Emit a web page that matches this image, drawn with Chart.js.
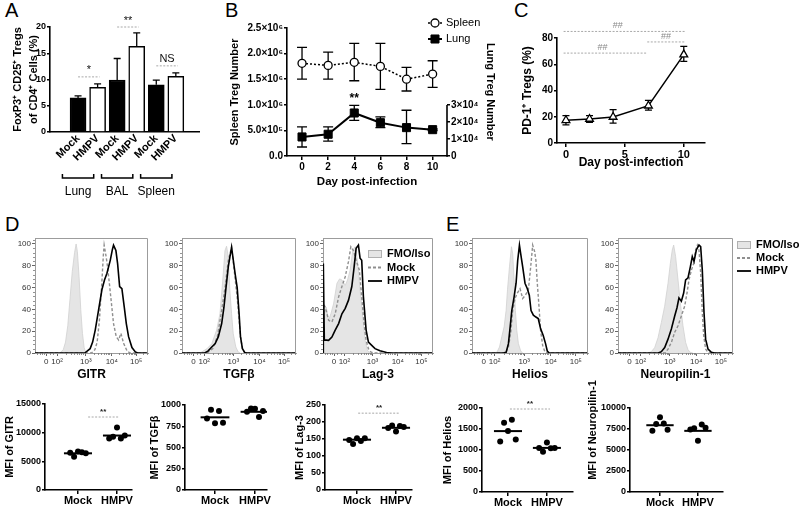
<!DOCTYPE html>
<html>
<head>
<meta charset="utf-8">
<script src="https://cdn.jsdelivr.net/npm/chart.js@4.4.1/dist/chart.umd.min.js"></script>
<style>
  body { margin: 0; background: #fff; width: 800px; height: 510px; position: relative; overflow: hidden;
         font-family: "Liberation Sans", Arial, sans-serif; }
  canvas { position: absolute; }
  .lab { position: absolute; font-size: 20px; line-height: 20px; color: #000; }
</style>
</head>
<body>
<div class="lab" style="left:5px;top:0px">A</div>
<div class="lab" style="left:225px;top:0px">B</div>
<div class="lab" style="left:514px;top:0px">C</div>
<div class="lab" style="left:5px;top:214px">D</div>
<div class="lab" style="left:446px;top:214px">E</div>

<canvas id="cA"></canvas>
<canvas id="cB"></canvas>
<canvas id="cC"></canvas>
<canvas id="hGitr"></canvas>
<canvas id="hTgf"></canvas>
<canvas id="hLag"></canvas>
<canvas id="hHel"></canvas>
<canvas id="hNrp"></canvas>
<canvas id="dGitr"></canvas>
<canvas id="dTgf"></canvas>
<canvas id="dLag"></canvas>
<canvas id="dHel"></canvas>
<canvas id="dNrp"></canvas>

<script>
// ---- A: Treg % by tissue ----
const tissues = ['Lung', 'BAL', 'Spleen'];
const groups = ['Mock', 'HMPV'];
const tregPct = [6.5, 8.5, 9.9, 16.3, 9.0, 10.6];
const tregPctErr = [0.4, 0.65, 4.1, 2.6, 0.9, 0.65];
const sigA = [
  {from: 0, to: 1.1, y: 10.5, label: '*'},
  {from: 2, to: 3.1, y: 20, label: '**'},
  {from: 4, to: 5.1, y: 12.6, label: 'NS'}
];

// ---- B: Treg numbers over time ----
const days = [0, 2, 4, 6, 8, 10];
const spleenTreg = [1.81e6, 1.77e6, 1.83e6, 1.75e6, 1.50e6, 1.60e6];
const spleenLo = [1.50e6, 1.50e6, 1.47e6, 1.30e6, 1.27e6, 1.34e6];
const spleenHi = [2.12e6, 2.03e6, 2.20e6, 2.20e6, 1.73e6, 1.86e6];
const lungTreg = [1.12e4, 1.28e4, 2.53e4, 1.96e4, 1.67e4, 1.55e4];
const lungLo = [0.53e4, 0.88e4, 2.10e4, 1.67e4, 0.73e4, 1.50e4];
const lungHi = [1.71e4, 1.71e4, 2.98e4, 2.30e4, 2.69e4, 1.60e4];
const spleenTicks = [0, 5e5, 1e6, 1.5e6, 2e6, 2.5e6];
const spleenTickLabels = ['0.0', '5.0×10⁵', '1.0×10⁶', '1.5×10⁶', '2.0×10⁶', '2.5×10⁶'];
const lungTicks = [0, 1e4, 2e4, 3e4];
const lungTickLabels = ['0', '1×10⁴', '2×10⁴', '3×10⁴'];

// ---- C: PD-1+ Tregs ----
const pdDays = [0, 2, 4, 7, 10];
const pd1Pct = [17.3, 18.3, 19.8, 28.4, 67.3];
const pd1Lo = [13.8, 15.8, 15.2, 25.0, 62.2];
const pd1Hi = [20.8, 20.8, 25.4, 32.5, 73.6];
const sigC = [
  {from: -0.2, to: 10.1, y: 85, label: '##', tx: 4.4},
  {from: -0.2, to: 6.9, y: 68.5, label: '##', tx: 3.1},
  {from: 6.9, to: 10.1, y: 77, label: '##', tx: 8.5}
];

// ---- D/E: histograms, [channel, % of max] ----
const histTickPos = [10, 19.5, 45, 68, 89.5];
const histTickLab = ['0', '10²', '10³', '10⁴', '10⁵'];
const histYTicks = [0, 20, 40, 60, 80, 100];

const gitrFmo = [[22,0],[25,3],[27,10],[29,25],[31,50],[33,75],[35,92],[36.4,100],[37.5,93],[39,70],[40.5,40],[42,18],[43.5,5],[45,0]];
const gitrMock = [[0,0],[50,0],[53,3],[55,10],[57,30],[59,62],[60.5,90],[61.2,99],[63,88],[64.2,79],[66,62],[68,42],[69.5,27],[71.9,15],[74,12],[76,18],[78.4,9],[81.4,2],[84,0],[100,0]];
const gitrHmpv = [[0,0],[44,0],[48.8,4],[51,10],[53.3,21],[56.2,39],[59.2,58],[61.5,67],[63.6,73],[66.6,85],[68.5,95],[69.5,99],[71.6,94],[73.1,82],[74.9,61],[76.9,59],[79,42],[80.8,27],[82.8,15],[85.8,5],[88.8,1],[91,0],[100,0]];

const tgfFmo = [[15,0],[17.4,1],[22,4],[26.1,8.5],[30.4,21],[33.3,36],[35.7,66],[37.7,94],[39.1,98],[40.6,88],[42,57],[43.5,36],[44.9,18],[47.2,5.5],[49.3,1],[51,0]];
const tgfMock = [[0,0],[22,0],[27,4],[31,15],[34.8,39],[38,62],[40.6,85],[43.5,97],[46.4,70],[48.4,51],[50.1,30],[51.3,15],[53,4],[55,0],[100,0]];
const tgfHmpv = [[0,0],[20,0],[23,2],[26.1,5.5],[29,8.5],[31.9,15],[34.8,27],[36.8,42],[38.6,60],[40.6,79],[42,88],[43.5,97],[44.9,86],[46.7,72],[48.4,60],[50.1,36],[51.3,15],[53,4],[55,0.5],[57,0],[100,0]];

const lagFmo = [[0,0],[0.6,36],[3,42],[5.1,30],[7.2,36],[9.6,45],[12.7,64],[15.1,68],[17.2,67],[20.2,62],[22.3,67],[24.7,76],[27.1,94.5],[29.2,97.5],[31.3,85],[33.7,58],[36.1,33],[38.3,11.6],[40.4,2.5],[42.8,0]];
const lagMock = [[0,0],[0.5,45],[2.1,42],[5.1,30],[8.1,28.5],[11.1,36],[14.2,51.5],[17.2,61],[20.2,70],[23.2,84],[25.3,97.5],[27.7,94],[30.1,85],[33.1,76],[35.2,51.5],[37.3,27],[39.2,11.6],[41.3,4],[43.4,1],[46,0],[100,0]];
const lagHmpv = [[0,0],[0.3,82],[1.2,12],[5.1,11.6],[8.1,14.7],[11.1,21],[14.2,27],[17.2,36],[20.2,41],[23.2,48.5],[26.2,61],[28.3,79],[30.1,96],[32.2,99],[33.7,87],[35.2,85],[36.7,52],[39.2,21],[41.3,10],[44.3,7],[47.3,4],[51.8,2],[57.8,0.5],[62,0],[100,0]];

const helFmo = [[19,0],[21.4,0.6],[23.7,5.5],[25.7,15],[27.7,24],[29.4,39],[30.6,58],[32.3,79],[34,97.5],[35.1,91],[36.3,67],[37.4,39],[38.6,21],[40,8.6],[42,1.8],[43.7,0]];
const helMock = [[0,0],[29,0],[31.4,5.5],[33.4,19],[35.1,39],[37.1,50],[39.1,55],[41.4,59],[43.7,50],[46,53],[48.6,58],[50.6,79],[52.3,99],[54,93],[55.1,85],[56.3,64],[58,39],[59.1,21],[60.9,7],[62.9,1],[65,0],[100,0]];
const helHmpv = [[0,0],[27,0],[29.4,0.6],[31.4,8.6],[32.9,24],[34.3,39],[36.3,51.5],[38,64],[39.4,85],[40.9,99],[42,91],[43.7,79],[45.7,64],[47.7,59],[49.4,53],[50.9,39],[52.9,34.7],[55.1,33],[57.1,31.6],[59.1,22.4],[61.4,16],[63.4,8.6],[64.9,1.8],[66.6,0],[100,0]];

const nrpFmo = [[26,0],[29,1.2],[31.9,5],[34.8,14],[37.7,28],[40.6,43],[43.5,64],[45.5,82],[47.2,94.5],[48.4,99],[50.1,88.5],[52.2,67],[54.2,46],[56.5,25],[58.8,9.7],[60.9,3],[62.9,0.6],[65,0]];
const nrpMock = [[0,0],[41,0],[43.5,3.6],[46.4,9.7],[49.3,19],[52.2,25],[55.1,34],[58,43],[60,55],[61.7,67],[63.8,76],[65.8,82],[67.5,94.5],[69,99],[70.4,94.5],[71.9,73],[73.3,37],[74.5,16],[76.2,3.6],[78.3,0.6],[80,0],[100,0]];
const nrpHmpv = [[0,0],[35,0],[37.7,1.2],[40.6,5],[43.5,12.7],[46.4,22],[49.3,34],[51.3,41.5],[53,50.6],[55.1,47.6],[57.1,55],[58.8,67],[60.9,69],[62.9,79],[64.6,88.5],[66.1,84],[68.1,94.5],[70.4,99],[71.9,97.6],[73.3,76],[74.8,37],[76.2,12.7],[78.3,3.6],[81.2,0.6],[84,0],[100,0]];

// ---- D/E: MFI dot plots, [Mock, HMPV] ----
const gitrMFI = [[6500, 5800, 6700, 6600, 6400], [9000, 9300, 10900, 9000, 9500]];
const gitrMean = [6400, 9500];
const tgfMFI = [[840, 945, 785, 930, 790], [920, 960, 955, 860, 930]];
const tgfMean = [855, 920];
const lagMFI = [[147, 135, 152, 144, 152], [182, 190, 172, 188, 185]];
const lagMean = [148, 183];
const helMFI = [[1200, 1650, 1450, 1720, 1250], [1050, 960, 1180, 1040, 1050]];
const helMean = [1450, 1050];
const nrpMFI = [[7300, 8100, 8900, 8150, 7400], [7450, 7600, 6100, 8050, 7650]];
const nrpMean = [7950, 7280];
const jitter = [-0.2, -0.1, 0, 0.1, 0.2];

// ------------------------------------------------------------
const FF = '"Liberation Sans", Arial, sans-serif';
Chart.defaults.font.family = FF;
Chart.defaults.color = '#000';
Chart.defaults.animation = false;
Chart.defaults.plugins.legend.display = false;
Chart.defaults.plugins.tooltip.enabled = false;

const toXY = arr => arr.map(p => ({x: p[0], y: p[1]}));
const plain = v => String(v);

function setup(id, cv, area) {
  const el = document.getElementById(id);
  el.width = cv.w; el.height = cv.h;
  el.style.left = cv.x + 'px'; el.style.top = cv.y + 'px';
  el.style.width = cv.w + 'px'; el.style.height = cv.h + 'px';
  return {
    el, cv,
    padding: {left: 0, top: area.t - cv.y, right: cv.x + cv.w - area.r, bottom: 0},
    leftW: area.l - cv.x,
    rightW: cv.x + cv.w - area.r,
    bottomH: cv.y + cv.h - area.b
  };
}

const blackGrid = {drawOnChartArea: false, tickLength: 4, color: '#000', lineWidth: 1.5};
const blackBorder = {color: '#000', width: 1.6};

const errorBars = {
  id: 'errorBars',
  beforeDatasetsDraw(chart) {
    const ctx = chart.ctx;
    chart.data.datasets.forEach((ds, i) => {
      if (!ds.errHi) return;
      const meta = chart.getDatasetMeta(i);
      const ys = chart.scales[meta.yAxisID];
      ctx.save();
      ctx.strokeStyle = '#000';
      ctx.lineWidth = 1.3;
      meta.data.forEach((pt, j) => {
        const top = ys.getPixelForValue(ds.errHi[j]);
        const bot = ds.errLo ? ys.getPixelForValue(ds.errLo[j]) : pt.y;
        ctx.beginPath();
        ctx.moveTo(pt.x, top); ctx.lineTo(pt.x, bot);
        ctx.moveTo(pt.x - ds.cap, top); ctx.lineTo(pt.x + ds.cap, top);
        if (ds.errLo) { ctx.moveTo(pt.x - ds.cap, bot); ctx.lineTo(pt.x + ds.cap, bot); }
        ctx.stroke();
      });
      ctx.restore();
    });
  }
};

function drawSig(ctx, xs, ys, s, color, font) {
  const x1 = xs.getPixelForValue(s.from), x2 = xs.getPixelForValue(s.to);
  const yy = ys.getPixelForValue(s.y);
  ctx.save();
  ctx.strokeStyle = '#a8a8a8'; ctx.lineWidth = 1; ctx.setLineDash([2, 1.5]);
  ctx.beginPath(); ctx.moveTo(x1, yy); ctx.lineTo(x2, yy); ctx.stroke();
  ctx.setLineDash([]);
  ctx.fillStyle = color; ctx.font = font; ctx.textAlign = 'center'; ctx.textBaseline = 'bottom';
  const tx = s.tx !== undefined ? xs.getPixelForValue(s.tx) : (x1 + x2) / 2;
  ctx.fillText(s.label, tx, yy - 1);
  ctx.restore();
}

// ---------------- A ----------------
const barLabels = tissues.flatMap(() => groups);
const fA = setup('cA', {x: 10, y: 0, w: 195, h: 200}, {l: 50, t: 27, r: 199, b: 132});
new Chart(fA.el, {
  type: 'bar',
  data: {datasets: [{
    data: tregPct.map((v, i) => ({x: i, y: v})),
    backgroundColor: tregPct.map((v, i) => i % 2 ? '#fff' : '#000'),
    borderColor: '#000', borderWidth: 1.5, barThickness: 16,
    errHi: tregPct.map((v, i) => v + tregPctErr[i]), cap: 3.5
  }]},
  options: {
    responsive: false, devicePixelRatio: 1,
    layout: {padding: fA.padding},
    scales: {
      x: {type: 'linear', min: -0.8, max: 5.55, afterFit: s => { s.height = fA.bottomH; },
          afterBuildTicks: s => { s.ticks = barLabels.map((l, i) => ({value: i})); },
          ticks: {callback: v => barLabels[v], minRotation: 45, maxRotation: 45, autoSkip: false,
                  font: {size: 11, weight: 'bold'}, padding: 0},
          grid: {drawOnChartArea: false, drawTicks: false}, border: blackBorder},
      y: {min: 0, max: 20, afterFit: s => { s.width = fA.leftW; },
          ticks: {stepSize: 5, callback: plain, font: {size: 9, weight: 'bold'}, padding: 1},
          grid: {...blackGrid, tickLength: 3}, border: blackBorder,
          title: {display: true, text: ['FoxP3⁺ CD25⁺ Tregs', 'of CD4⁺ Cells (%)'],
                  font: {size: 11, weight: 'bold', lineHeight: 1.45}, padding: {top: 0, bottom: 0}}}
    }
  },
  plugins: [errorBars, {
    id: 'annA',
    afterDraw(chart) {
      const {ctx, chartArea} = chart;
      const xs = chart.scales.x, ys = chart.scales.y;
      ctx.save();
      ctx.strokeStyle = '#000'; ctx.lineWidth = 1.5; ctx.fillStyle = '#000';
      ctx.font = '12px ' + FF; ctx.textAlign = 'center'; ctx.textBaseline = 'middle';
      const by = chartArea.bottom + 46;
      tissues.forEach((t, g) => {
        const x1 = xs.getPixelForValue(2 * g - 0.8), x2 = xs.getPixelForValue(2 * g + 0.8);
        ctx.beginPath();
        ctx.moveTo(x1, by - 4); ctx.lineTo(x1, by); ctx.lineTo(x2, by); ctx.lineTo(x2, by - 4);
        ctx.stroke();
        ctx.fillText(t, xs.getPixelForValue(2 * g), by + 14);
      });
      ctx.restore();
      sigA.forEach(s => drawSig(ctx, xs, ys, s, '#111', '11px ' + FF));
    }
  }]
});

// ---------------- B ----------------
const fB = setup('cB', {x: 226, y: 0, w: 276, h: 195}, {l: 287, t: 28, r: 447, b: 156});
fB.padding.right = 0;
new Chart(fB.el, {
  type: 'line',
  data: {datasets: [
    {label: 'Spleen', data: days.map((d, i) => ({x: d, y: spleenTreg[i]})), yAxisID: 'y',
     borderColor: '#000', borderWidth: 1.5, borderDash: [2, 2], pointStyle: 'circle', pointRadius: 4,
     pointBackgroundColor: '#fff', pointBorderColor: '#000', pointBorderWidth: 1.3,
     errLo: spleenLo, errHi: spleenHi, cap: 5},
    {label: 'Lung', data: days.map((d, i) => ({x: d, y: lungTreg[i]})), yAxisID: 'y2',
     borderColor: '#000', borderWidth: 2, pointStyle: 'rect', pointRadius: 5.7,
     pointBackgroundColor: '#000', pointBorderColor: '#000', pointBorderWidth: 1,
     errLo: lungLo, errHi: lungHi, cap: 5}
  ]},
  options: {
    responsive: false, devicePixelRatio: 1,
    layout: {padding: fB.padding},
    scales: {
      x: {type: 'linear', min: -1.15, max: 11.1, afterFit: s => { s.height = fB.bottomH; },
          afterBuildTicks: s => { s.ticks = days.map(v => ({value: v})); },
          ticks: {font: {size: 10, weight: 'bold'}, padding: 1},
          grid: blackGrid, border: blackBorder,
          title: {display: true, text: 'Day post-infection', font: {size: 11.5, weight: 'bold'},
                  padding: {top: 0, bottom: 6}}},
      y: {min: 0, max: 2.5e6, afterFit: s => { s.width = fB.leftW; },
          afterBuildTicks: s => { s.ticks = spleenTicks.map(v => ({value: v})); },
          ticks: {callback: (v, i) => spleenTickLabels[i], font: {size: 10, weight: 'bold'}, padding: 1},
          grid: {...blackGrid, tickLength: 3}, border: blackBorder,
          title: {display: true, text: 'Spleen Treg Number', font: {size: 11, weight: 'bold'},
                  padding: {top: 2.4, bottom: 0}}},
      y2: {position: 'right', min: 0, max: 75300, afterFit: s => { s.width = fB.rightW; },
           afterBuildTicks: s => { s.ticks = lungTicks.map(v => ({value: v})); },
           ticks: {callback: (v, i) => lungTickLabels[i], font: {size: 10, weight: 'bold'}, padding: 1},
           grid: {...blackGrid, tickLength: 3}, border: {display: false},
           title: {display: true, text: 'Lung Treg Number', font: {size: 11, weight: 'bold'},
                   padding: {top: 5.4, bottom: 0}}}
    }
  },
  plugins: [errorBars, {
    id: 'annB',
    afterDraw(chart) {
      const {ctx, chartArea} = chart;
      const xs = chart.scales.x, ys = chart.scales.y, y2 = chart.scales.y2;
      ctx.save();
      // right axis only spans 0 .. 3x10^4
      ctx.strokeStyle = '#000'; ctx.lineWidth = 1.6;
      ctx.beginPath();
      ctx.moveTo(chartArea.right, y2.getPixelForValue(0) + 0.8);
      ctx.lineTo(chartArea.right, y2.getPixelForValue(lungTicks[lungTicks.length - 1]));
      ctx.stroke();
      // significance
      ctx.fillStyle = '#000'; ctx.font = 'bold 12px ' + FF; ctx.textAlign = 'center'; ctx.textBaseline = 'middle';
      ctx.fillText('**', xs.getPixelForValue(4), ys.getPixelForValue(1.11e6));
      // legend
      const lx = 428 - fB.cv.x;
      chart.data.datasets.forEach((ds, k) => {
        const ly = 23 + k * 16;
        ctx.strokeStyle = '#000'; ctx.lineWidth = ds.borderWidth;
        ctx.setLineDash(ds.borderDash || []);
        ctx.beginPath(); ctx.moveTo(lx, ly); ctx.lineTo(lx + 14, ly); ctx.stroke();
        ctx.setLineDash([]);
        ctx.fillStyle = ds.pointBackgroundColor; ctx.strokeStyle = ds.pointBorderColor;
        ctx.lineWidth = ds.pointBorderWidth;
        Chart.helpers.drawPoint(ctx, {pointStyle: ds.pointStyle, radius: ds.pointRadius, rotation: 0,
                                      borderWidth: ds.pointBorderWidth}, lx + 7, ly);
        ctx.fillStyle = '#000'; ctx.font = '11px ' + FF; ctx.textAlign = 'left';
        ctx.fillText(ds.label, lx + 18, ly);
      });
      ctx.restore();
    }
  }]
});

// ---------------- C ----------------
const fC = setup('cC', {x: 518, y: 0, w: 200, h: 180}, {l: 557, t: 38, r: 705, b: 143});
new Chart(fC.el, {
  type: 'line',
  data: {datasets: [{
    data: pdDays.map((d, i) => ({x: d, y: pd1Pct[i]})),
    borderColor: '#000', borderWidth: 1.5, pointStyle: 'triangle', pointRadius: 4.5,
    pointBackgroundColor: '#fff', pointBorderColor: '#000', pointBorderWidth: 1.3,
    errLo: pd1Lo, errHi: pd1Hi, cap: 3.5
  }]},
  options: {
    responsive: false, devicePixelRatio: 1,
    layout: {padding: fC.padding},
    scales: {
      x: {type: 'linear', min: -0.76, max: 11.8, afterFit: s => { s.height = fC.bottomH; },
          afterBuildTicks: s => { s.ticks = [0, 5, 10].map(v => ({value: v})); },
          ticks: {font: {size: 11, weight: 'bold'}, padding: 1},
          grid: blackGrid, border: blackBorder,
          title: {display: true, text: 'Day post-infection', font: {size: 12, weight: 'bold'},
                  padding: {top: 0, bottom: 9.8}}},
      y: {min: 0, max: 80, afterFit: s => { s.width = fC.leftW; },
          ticks: {stepSize: 20, callback: plain, font: {size: 10, weight: 'bold'}, padding: 1},
          grid: {...blackGrid, tickLength: 3}, border: blackBorder,
          title: {display: true, text: 'PD-1⁺ Tregs (%)', font: {size: 12, weight: 'bold'},
                  padding: {top: 2.8, bottom: 0}}}
    }
  },
  plugins: [errorBars, {
    id: 'annC',
    afterDraw(chart) {
      sigC.forEach(s => drawSig(chart.ctx, chart.scales.x, chart.scales.y, s, '#8a8a8a', '9px ' + FF));
    }
  }]
});

// ---------------- histograms ----------------
const boxPlugin = {
  id: 'box',
  afterDraw(chart) {
    const a = chart.chartArea, ctx = chart.ctx;
    const xs = chart.scales.x, ys = chart.scales.y;
    ctx.save();
    ctx.strokeStyle = '#9c9c9c'; ctx.lineWidth = 1;
    ctx.beginPath();
    ctx.moveTo(a.left, a.top + 0.5); ctx.lineTo(a.right - 0.5, a.top + 0.5); ctx.lineTo(a.right - 0.5, a.bottom);
    ctx.stroke();
    // minor ticks
    ctx.strokeStyle = '#777'; ctx.lineWidth = 0.8;
    ctx.beginPath();
    for (let v = 4; v < 105; v += 4) {
      if (v % 20 === 0) continue;
      const y = Math.round(ys.getPixelForValue(v)) + 0.5;
      ctx.moveTo(a.left - 2, y); ctx.lineTo(a.left, y);
    }
    for (let k = 1; k < histTickPos.length; k++) {
      const step = k < histTickPos.length - 1 ? histTickPos[k + 1] - histTickPos[k] : 21;
      for (let m = 2; m < 10; m++) {
        const v = histTickPos[k] + step * Math.log10(m);
        if (v >= 100) break;
        const x = Math.round(xs.getPixelForValue(v)) + 0.5;
        ctx.moveTo(x, a.bottom); ctx.lineTo(x, a.bottom + 2);
      }
    }
    [2, 4, 6, 8, 13, 16].forEach(v => {
      const x = Math.round(xs.getPixelForValue(v)) + 0.5;
      ctx.moveTo(x, a.bottom); ctx.lineTo(x, a.bottom + 2);
    });
    ctx.stroke();
    ctx.restore();
  }
};

function legendPlugin(px, py, dy, cv) {
  return {
    id: 'hleg',
    afterDraw(chart) {
      const ctx = chart.ctx, x = px - cv.x;
      ctx.save();
      ctx.font = 'bold 11px ' + FF; ctx.textBaseline = 'middle'; ctx.textAlign = 'left';
      [2, 1, 0].forEach((di, k) => {
        const ds = chart.data.datasets[di], yy = py - cv.y + k * dy;
        if (ds.fill) {
          ctx.fillStyle = ds.backgroundColor; ctx.strokeStyle = '#b0b0b0'; ctx.lineWidth = 1;
          ctx.fillRect(x, yy - 3.5, 14, 7); ctx.strokeRect(x + 0.5, yy - 3.5, 13, 7);
        } else {
          ctx.strokeStyle = ds.borderColor; ctx.lineWidth = 1.8;
          ctx.setLineDash(ds.borderDash || []);
          ctx.beginPath(); ctx.moveTo(x, yy); ctx.lineTo(x + 14, yy); ctx.stroke();
          ctx.setLineDash([]);
        }
        ctx.fillStyle = '#000';
        ctx.fillText(ds.label, x + 19, yy);
      });
      ctx.restore();
    }
  };
}

function makeHist(id, area, fmo, mock, hmpv, label, wideRight, extra) {
  const cv = {x: area.l - 30, y: 230, w: area.r - area.l + 30 + (wideRight || 10), h: 158};
  const f = setup(id, cv, area);
  const plugins = [boxPlugin];
  if (extra) plugins.push(extra(cv));
  return new Chart(f.el, {
    type: 'line',
    data: {datasets: [
      {label: 'HMPV', data: toXY(hmpv), borderColor: '#000', borderWidth: 1.6, pointRadius: 0, fill: false},
      {label: 'Mock', data: toXY(mock), borderColor: '#8f8f8f', borderWidth: 1.4, borderDash: [3, 2],
       pointRadius: 0, fill: false},
      {label: 'FMO/Iso', data: toXY(fmo), borderColor: '#d0d0d0', backgroundColor: '#e5e5e5',
       borderWidth: 0.8, pointRadius: 0, fill: 'origin'}
    ]},
    options: {
      responsive: false, devicePixelRatio: 1,
      layout: {padding: f.padding},
      scales: {
        x: {type: 'linear', min: 0, max: 100, afterFit: s => { s.height = f.bottomH; },
            afterBuildTicks: s => { s.ticks = histTickPos.map(v => ({value: v})); },
            ticks: {callback: (v, i) => histTickLab[i], autoSkip: false, maxRotation: 0,
                    font: {size: 8}, color: '#333', padding: 1},
            grid: {drawOnChartArea: false, tickLength: 3, color: '#666', lineWidth: 1},
            border: {color: '#9c9c9c', width: 1},
            title: {display: true, text: label, font: {size: 12, weight: 'bold'}, padding: {top: 0, bottom: 5.8}}},
        y: {min: 0, max: 105.5, afterFit: s => { s.width = f.leftW; },
            afterBuildTicks: s => { s.ticks = histYTicks.map(v => ({value: v})); },
            ticks: {font: {size: 8}, color: '#333', padding: 1},
            grid: {drawOnChartArea: false, tickLength: 3, color: '#666', lineWidth: 1},
            border: {color: '#9c9c9c', width: 1}}
      }
    },
    plugins
  });
}

makeHist('hGitr', {l: 35, t: 238, r: 148, b: 353}, gitrFmo, gitrMock, gitrHmpv, 'GITR');
makeHist('hTgf', {l: 182, t: 238, r: 296, b: 353}, tgfFmo, tgfMock, tgfHmpv, 'TGFβ');
makeHist('hLag', {l: 323, t: 238, r: 433, b: 353}, lagFmo, lagMock, lagHmpv, 'Lag-3', 10,
         cv => legendPlugin(368, 254, 13.5, cv));
makeHist('hHel', {l: 472, t: 238, r: 588, b: 353}, helFmo, helMock, helHmpv, 'Helios');
makeHist('hNrp', {l: 618, t: 238, r: 733, b: 353}, nrpFmo, nrpMock, nrpHmpv, 'Neuropilin-1', 67,
         cv => legendPlugin(737, 245, 13, cv));

// ---------------- dot plots ----------------
function makeDots(id, cv, area, xr, vals, means, yMax, yStep, title, sig, manualTitle) {
  const f = setup(id, cv, area);
  const datasets = [];
  vals.forEach((grp, g) => {
    datasets.push({data: grp.map((v, j) => ({x: g + 1 + jitter[j], y: v})), showLine: false,
                   pointRadius: 3, pointBackgroundColor: '#000', pointBorderColor: '#000', borderWidth: 0});
    datasets.push({data: [{x: g + 1 - 0.36, y: means[g]}, {x: g + 1 + 0.36, y: means[g]}],
                   borderColor: '#000', borderWidth: 2, pointRadius: 0});
  });
  const plugins = [];
  if (sig) plugins.push({id: 'sig', afterDraw(c) {
    drawSig(c.ctx, c.scales.x, c.scales.y, sig, '#222', 'bold 8px ' + FF);
  }});
  if (manualTitle) plugins.push({id: 'mtitle', afterDraw(c) {
    const ctx = c.ctx;
    ctx.save();
    ctx.translate(manualTitle.x - cv.x, manualTitle.y - cv.y); ctx.rotate(-Math.PI / 2);
    ctx.font = 'bold 11px ' + FF; ctx.fillStyle = '#000'; ctx.textAlign = 'center'; ctx.textBaseline = 'middle';
    ctx.fillText(title, 0, 0);
    ctx.restore();
  }});
  return new Chart(f.el, {
    type: 'line',
    data: {datasets},
    options: {
      responsive: false, devicePixelRatio: 1,
      layout: {padding: f.padding},
      scales: {
        x: {type: 'linear', min: xr[0], max: xr[1], afterFit: s => { s.height = f.bottomH; },
            afterBuildTicks: s => { s.ticks = groups.map((gname, i) => ({value: i + 1})); },
            ticks: {callback: (v, i) => groups[i], autoSkip: false, maxRotation: 0,
                    font: {size: 11, weight: 'bold'}, padding: 0},
            grid: blackGrid, border: blackBorder},
        y: {min: 0, max: yMax, afterFit: s => { s.width = f.leftW; },
            ticks: {stepSize: yStep, callback: plain, font: {size: 9, weight: 'bold'}, padding: 1},
            grid: {...blackGrid, tickLength: 3}, border: blackBorder,
            title: {display: !manualTitle, text: title, font: {size: 11, weight: 'bold'},
                    padding: {top: 3.4, bottom: 0}}}
      }
    },
    plugins
  });
}

makeDots('dGitr', {x: 0, y: 395, w: 140, h: 115}, {l: 45, t: 404, r: 132, b: 490}, [0.154, 2.385],
         gitrMFI, gitrMean, 15000, 5000, 'MFI of GITR', {from: 1.26, to: 2.03, y: 12730, label: '**'});
makeDots('dTgf', {x: 145, y: 395, w: 130, h: 115}, {l: 185, t: 405, r: 267, b: 490}, [0.25, 2.3],
         tgfMFI, tgfMean, 1000, 250, 'MFI of TGFβ', null);
makeDots('dLag', {x: 290, y: 395, w: 130, h: 115}, {l: 325, t: 405, r: 412, b: 490}, [0.18, 2.41],
         lagMFI, lagMean, 250, 50, 'MFI of Lag-3', {from: 1.03, to: 2.1, y: 226, label: '**'});
makeDots('dHel', {x: 438, y: 395, w: 145, h: 115}, {l: 482, t: 408, r: 573, b: 492}, [0.333, 2.67],
         helMFI, helMean, 2000, 500, 'MFI of Helios', {from: 1.05, to: 2.08, y: 1976, label: '**'});
makeDots('dNrp', {x: 583, y: 350, w: 150, h: 160}, {l: 630, t: 408, r: 723, b: 492}, [0.21, 2.66],
         nrpMFI, nrpMean, 10000, 2500, 'MFI of Neuropilin-1', null, {x: 593, y: 430});
</script>
</body>
</html>
